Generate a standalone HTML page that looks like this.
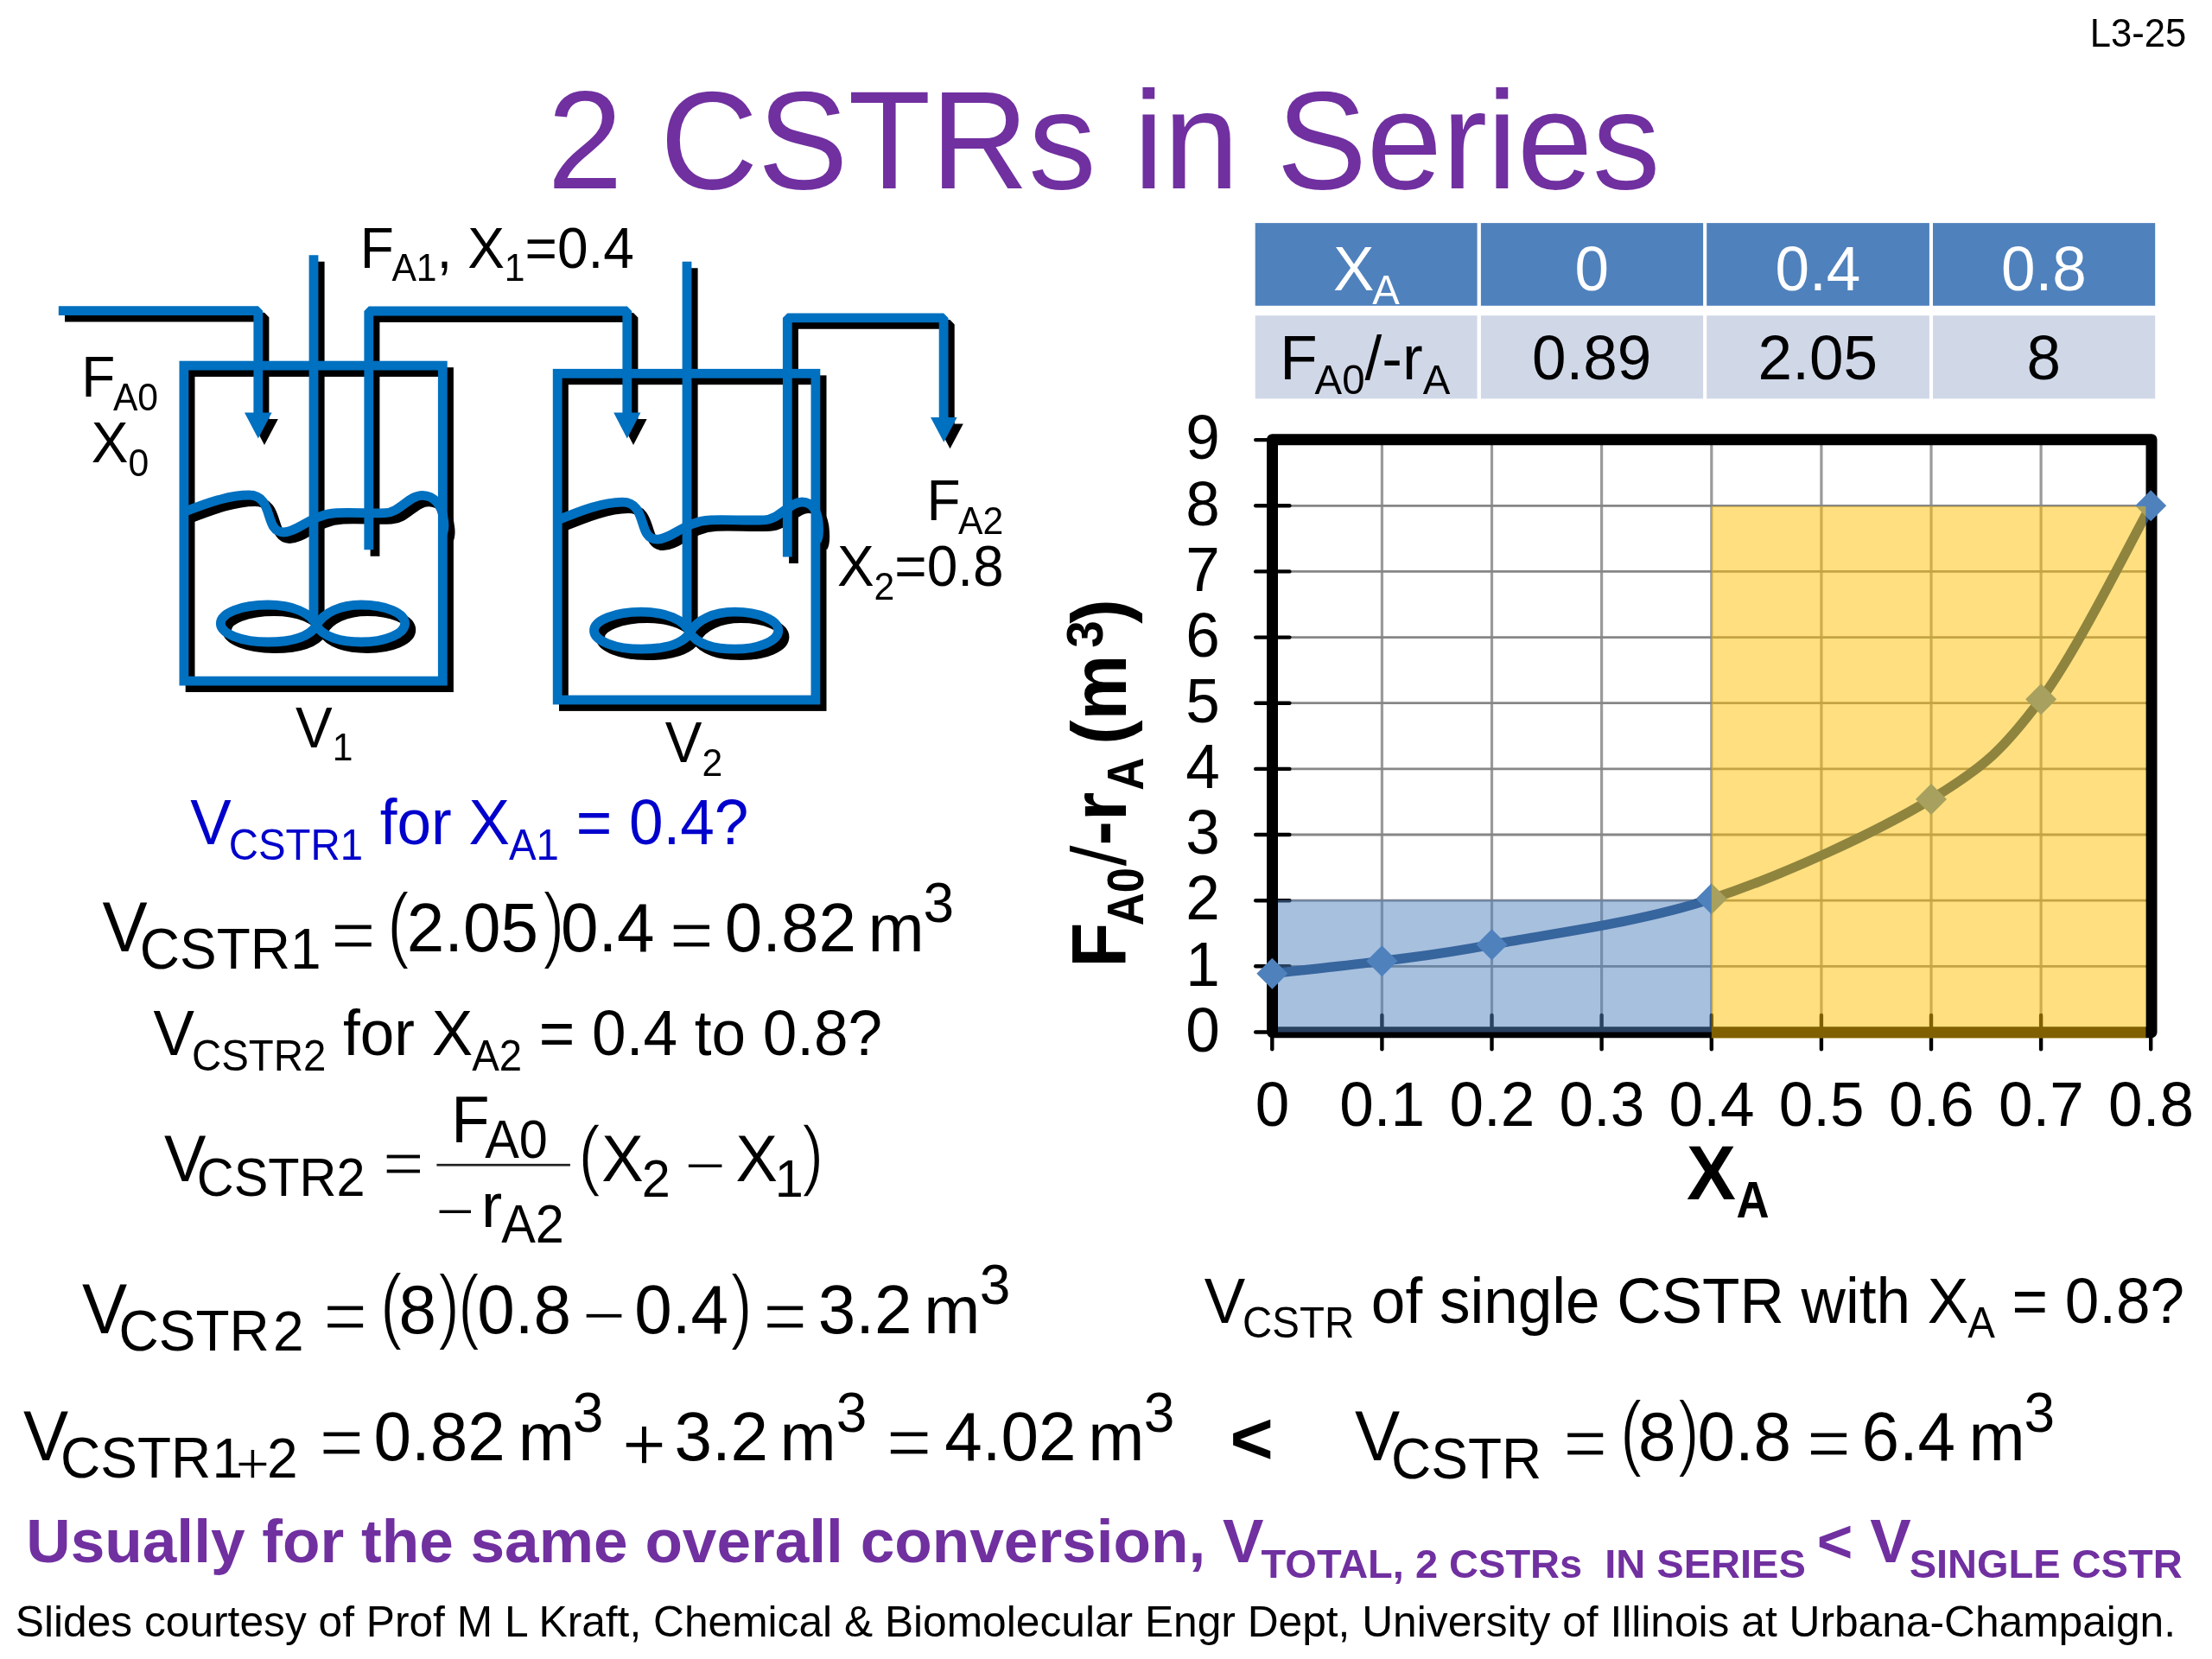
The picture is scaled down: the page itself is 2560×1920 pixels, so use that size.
<!DOCTYPE html>
<html lang="en"><head><meta charset="utf-8"><title>2 CSTRs in Series</title>
<style>
html,body{margin:0;padding:0;background:#fff;}
body{width:2560px;height:1920px;overflow:hidden;position:relative;}
svg{position:absolute;left:0;top:0;display:block;will-change:transform;}
text{font-family:"Liberation Sans", sans-serif;white-space:pre;}
</style></head><body>
<svg width="2560" height="1920" viewBox="0 0 2560 1920">

<text transform="translate(2418.8 54.4) scale(1 1.050)" font-size="43.6" fill="#000">L3-25</text>
<text transform="translate(633.4 218.3) scale(1 1.030)" font-size="156.6" fill="#7030a0">2 CSTRs in Series</text>
<g fill="none" stroke="#000" stroke-width="10.8" transform="translate(7.2,7.5)">
<g stroke-linejoin="miter">
<rect x="212.9" y="423.1" width="299.4" height="365"/>
<rect x="645.2" y="432.3" width="298.7" height="377.7"/>
</g>
<g stroke-linejoin="bevel">
<path d="M67.8 359.7 H298.8 V480"/>
<path d="M426.8 636.2 V360 H725.8 V480"/>
<path d="M911.3 644.5 V367.9 H1092.1 V486"/>
</g>
<path d="M363 295.2 V721"/>
<path d="M795 302.8 V729"/>
<g stroke-linejoin="round"><path d="M213 592.5 C240 582 265 573 288 573 C318 573 305 616 328 616 C345 616 360 595 390 593.6 C410 592.8 427 594.4 446 593.6 C463 593 473 573.3 489 573.3 C503 573.3 511.5 586 513.2 600 C514.5 608 514.2 614 512 617.5"/><path d="M366.2 724 C360 709 338 700 310 700 C279.6 700 255.3 709.6 255.3 721.5 C255.3 733.4 279.6 743 310 743 C338 743 358 737 366.2 724 C374 709 394 700 418 700 C446 700 468.6 709.6 468.6 721.5 C468.6 733.4 446 743 418 743 C394 743 374 737 366.2 724 Z"/>
<path d="M645.2 602 C672.2 591 697.2 581.2 720.2 581.2 C750.2 581.2 737.2 624.2 760.2 624.2 C777.2 624.2 792.2 603.2 822.2 601.8 C842.2 601 862 602.6 884 601.8 C903 601 913 581 928 581 C942 581 946.5 594 947.2 606 C948 616 947.8 622 945.5 625.5"/>
<g transform="translate(432.2,8.2)"><path d="M366.2 724 C360 709 338 700 310 700 C279.6 700 255.3 709.6 255.3 721.5 C255.3 733.4 279.6 743 310 743 C338 743 358 737 366.2 724 C374 709 394 700 418 700 C446 700 468.6 709.6 468.6 721.5 C468.6 733.4 446 743 418 743 C394 743 374 737 366.2 724 Z"/></g></g>
</g>
<g fill="#000" stroke="none" transform="translate(7.2,7.5)">
<path d="M283.0 477.5 H314.6 L298.8 507.5 Z"/>
<path d="M710.2 477.5 H741.4 L725.8 507.5 Z"/>
<path d="M1077.0 482.9 H1107.6 L1092.3 511.8 Z"/>
</g>
<g fill="none" stroke="#0070c0" stroke-width="10.8">
<g stroke-linejoin="miter">
<rect x="212.9" y="423.1" width="299.4" height="365"/>
<rect x="645.2" y="432.3" width="298.7" height="377.7"/>
</g>
<g stroke-linejoin="bevel">
<path d="M67.8 359.7 H298.8 V480"/>
<path d="M426.8 636.2 V360 H725.8 V480"/>
<path d="M911.3 644.5 V367.9 H1092.1 V486"/>
</g>
<path d="M363 295.2 V721"/>
<path d="M795 302.8 V729"/>
<g stroke-linejoin="round"><path d="M213 592.5 C240 582 265 573 288 573 C318 573 305 616 328 616 C345 616 360 595 390 593.6 C410 592.8 427 594.4 446 593.6 C463 593 473 573.3 489 573.3 C503 573.3 511.5 586 513.2 600 C514.5 608 514.2 614 512 617.5"/><path d="M366.2 724 C360 709 338 700 310 700 C279.6 700 255.3 709.6 255.3 721.5 C255.3 733.4 279.6 743 310 743 C338 743 358 737 366.2 724 C374 709 394 700 418 700 C446 700 468.6 709.6 468.6 721.5 C468.6 733.4 446 743 418 743 C394 743 374 737 366.2 724 Z"/>
<path d="M645.2 602 C672.2 591 697.2 581.2 720.2 581.2 C750.2 581.2 737.2 624.2 760.2 624.2 C777.2 624.2 792.2 603.2 822.2 601.8 C842.2 601 862 602.6 884 601.8 C903 601 913 581 928 581 C942 581 946.5 594 947.2 606 C948 616 947.8 622 945.5 625.5"/>
<g transform="translate(432.2,8.2)"><path d="M366.2 724 C360 709 338 700 310 700 C279.6 700 255.3 709.6 255.3 721.5 C255.3 733.4 279.6 743 310 743 C338 743 358 737 366.2 724 C374 709 394 700 418 700 C446 700 468.6 709.6 468.6 721.5 C468.6 733.4 446 743 418 743 C394 743 374 737 366.2 724 Z"/></g></g>
</g>
<g fill="#0070c0" stroke="none">
<path d="M283.0 477.5 H314.6 L298.8 507.5 Z"/>
<path d="M710.2 477.5 H741.4 L725.8 507.5 Z"/>
<path d="M1077.0 482.9 H1107.6 L1092.3 511.8 Z"/>
</g>
<text transform="translate(416.8 309.6) scale(1 1.045)" font-size="64.0" fill="#000">F<tspan dy="15.2" font-size="42.7" dx="-2.5">A1</tspan><tspan dy="-15.2">, X</tspan><tspan dy="15.2" font-size="42.7">1</tspan><tspan dy="-15.2">=0.4</tspan></text>
<text transform="translate(94.3 459.0) scale(1 1.045)" font-size="64.0" fill="#000">F<tspan dy="15.2" font-size="42.7" dx="-2.5">A0</tspan></text>
<text transform="translate(105.7 535.0) scale(1 1.045)" font-size="64.0" fill="#000">X<tspan dy="15.2" font-size="42.7">0</tspan></text>
<text transform="translate(342.0 864.5) scale(1 1.045)" font-size="64.0" fill="#000">V<tspan dy="15.2" font-size="42.7">1</tspan></text>
<text transform="translate(769.8 882.2) scale(1 1.045)" font-size="64.0" fill="#000">V<tspan dy="15.2" font-size="42.7">2</tspan></text>
<text transform="translate(1072.5 601.7) scale(1 1.045)" font-size="64.0" fill="#000">F<tspan dy="15.2" font-size="42.7" dx="-2.5">A2</tspan></text>
<text transform="translate(968.9 678.2) scale(1 1.045)" font-size="64.0" fill="#000">X<tspan dy="15.2" font-size="42.7">2</tspan><tspan dy="-15.2">=0.8</tspan></text>
<rect x="1452.7" y="258.1" width="256.9" height="95.7" fill="#4f81bd"/>
<rect x="1452.7" y="365.2" width="256.9" height="96.2" fill="#d0d8e8"/>
<rect x="1713.9" y="258.1" width="257.2" height="95.7" fill="#4f81bd"/>
<rect x="1713.9" y="365.2" width="257.2" height="96.2" fill="#d0d8e8"/>
<rect x="1975.2" y="258.1" width="257.7" height="95.7" fill="#4f81bd"/>
<rect x="1975.2" y="365.2" width="257.7" height="96.2" fill="#d0d8e8"/>
<rect x="2237.0" y="258.1" width="257.2" height="95.7" fill="#4f81bd"/>
<rect x="2237.0" y="365.2" width="257.2" height="96.2" fill="#d0d8e8"/>
<text transform="translate(1581.4 335.5) scale(1 1.005)" font-size="71.1" fill="#fff" text-anchor="middle">X<tspan dy="16.9" font-size="47.4" dx="-2.0">A</tspan></text>
<text transform="translate(1579.7 439.0) scale(1 1.005)" font-size="71.1" fill="#000" text-anchor="middle">F<tspan dy="16.9" font-size="47.4" dx="-3.0">A0</tspan><tspan dy="-16.9">/-r</tspan><tspan dy="16.9" font-size="47.4">A</tspan></text>
<text transform="translate(1842.2 335.5) scale(1 1.005)" font-size="71.1" fill="#fff" text-anchor="middle">0</text>
<text transform="translate(1842.2 439.0) scale(1 1.005)" font-size="71.1" fill="#000" text-anchor="middle">0.89</text>
<text transform="translate(2103.8 335.5) scale(1 1.005)" font-size="71.1" fill="#fff" text-anchor="middle">0.4</text>
<text transform="translate(2103.8 439.0) scale(1 1.005)" font-size="71.1" fill="#000" text-anchor="middle">2.05</text>
<text transform="translate(2365.3 335.5) scale(1 1.005)" font-size="71.1" fill="#fff" text-anchor="middle">0.8</text>
<text transform="translate(2365.3 439.0) scale(1 1.005)" font-size="71.1" fill="#000" text-anchor="middle">8</text>
<g fill="none">
<g stroke="#9a9a9a" stroke-width="3.2">
<path d="M1599.4 509.1 V1194.5"/>
<path d="M1726.5 509.1 V1194.5"/>
<path d="M1853.6 509.1 V1194.5"/>
<path d="M1980.8 509.1 V1194.5"/>
<path d="M2107.9 509.1 V1194.5"/>
<path d="M2235.0 509.1 V1194.5"/>
<path d="M2362.1 509.1 V1194.5"/>
</g><g stroke="#868686" stroke-width="2.8">
<path d="M1472.3 1118.3 H2489.2"/>
<path d="M1472.3 1042.2 H2489.2"/>
<path d="M1472.3 966.0 H2489.2"/>
<path d="M1472.3 889.9 H2489.2"/>
<path d="M1472.3 813.7 H2489.2"/>
<path d="M1472.3 737.6 H2489.2"/>
<path d="M1472.3 661.4 H2489.2"/>
<path d="M1472.3 585.3 H2489.2"/>
</g></g>
<rect x="1472.5" y="508.7" width="1017.5" height="686.0" fill="none" stroke="#000" stroke-width="13" stroke-linejoin="round"/>
<g stroke="#000" stroke-width="4.4" stroke-linecap="round">
<path d="M1453.2 1194.5 H1492.4"/>
<path d="M1453.2 1118.3 H1492.4"/>
<path d="M1453.2 1042.2 H1492.4"/>
<path d="M1453.2 966.0 H1492.4"/>
<path d="M1453.2 889.9 H1492.4"/>
<path d="M1453.2 813.7 H1492.4"/>
<path d="M1453.2 737.6 H1492.4"/>
<path d="M1453.2 661.4 H1492.4"/>
<path d="M1453.2 585.3 H1492.4"/>
<path d="M1453.2 509.1 H1492.4"/>
<path d="M1472.3 1175 V1214.3"/>
<path d="M1599.4 1175 V1214.3"/>
<path d="M1726.5 1175 V1214.3"/>
<path d="M1853.6 1175 V1214.3"/>
<path d="M1980.8 1175 V1214.3"/>
<path d="M2107.9 1175 V1214.3"/>
<path d="M2235.0 1175 V1214.3"/>
<path d="M2362.1 1175 V1214.3"/>
<path d="M2489.2 1175 V1214.3"/>
</g>
<path d="M1472.3 1126.7 C1493.5 1124.3 1557.0 1117.8 1599.4 1112.3 C1641.8 1106.7 1663.0 1105.2 1726.5 1093.2 C1790.1 1081.2 1896.0 1068.3 1980.8 1040.3 C2065.5 1012.2 2171.4 963.4 2235.0 924.9 C2298.5 886.4 2319.7 865.8 2362.1 809.2 C2404.5 752.5 2468.0 622.6 2489.2 585.3" fill="none" stroke="#1f497d" stroke-width="11.2" stroke-linecap="butt"/>
<path d="M1472.3 1108.7 l18.0 18.0 l-18.0 18.0 l-18.0 -18.0 Z" fill="#4f81bd"/>
<path d="M1599.4 1094.3 l18.0 18.0 l-18.0 18.0 l-18.0 -18.0 Z" fill="#4f81bd"/>
<path d="M1726.5 1075.2 l18.0 18.0 l-18.0 18.0 l-18.0 -18.0 Z" fill="#4f81bd"/>
<path d="M1980.8 1022.3 l18.0 18.0 l-18.0 18.0 l-18.0 -18.0 Z" fill="#4f81bd"/>
<path d="M2235.0 906.9 l18.0 18.0 l-18.0 18.0 l-18.0 -18.0 Z" fill="#4f81bd"/>
<path d="M2362.1 791.2 l18.0 18.0 l-18.0 18.0 l-18.0 -18.0 Z" fill="#4f81bd"/>
<path d="M2489.2 567.3 l18.0 18.0 l-18.0 18.0 l-18.0 -18.0 Z" fill="#4f81bd"/>
<rect x="1479" y="1041.4" width="501.8" height="153.1" fill="#4f81bd" fill-opacity="0.5"/>
<rect x="1980.8" y="585.9" width="502.6" height="615.7" fill="#ffc000" fill-opacity="0.5"/>
<text transform="translate(1411.9 1216.7) scale(1 1.015)" font-size="71.1" fill="#000" text-anchor="end">0</text>
<text transform="translate(1411.9 1140.5) scale(1 1.015)" font-size="71.1" fill="#000" text-anchor="end">1</text>
<text transform="translate(1411.9 1064.4) scale(1 1.015)" font-size="71.1" fill="#000" text-anchor="end">2</text>
<text transform="translate(1411.9 988.2) scale(1 1.015)" font-size="71.1" fill="#000" text-anchor="end">3</text>
<text transform="translate(1411.9 912.1) scale(1 1.015)" font-size="71.1" fill="#000" text-anchor="end">4</text>
<text transform="translate(1411.9 835.9) scale(1 1.015)" font-size="71.1" fill="#000" text-anchor="end">5</text>
<text transform="translate(1411.9 759.8) scale(1 1.015)" font-size="71.1" fill="#000" text-anchor="end">6</text>
<text transform="translate(1411.9 683.6) scale(1 1.015)" font-size="71.1" fill="#000" text-anchor="end">7</text>
<text transform="translate(1411.9 607.5) scale(1 1.015)" font-size="71.1" fill="#000" text-anchor="end">8</text>
<text transform="translate(1411.9 531.3) scale(1 1.015)" font-size="71.1" fill="#000" text-anchor="end">9</text>
<text transform="translate(1472.6 1303.4) scale(1 1.025)" font-size="71.1" fill="#000" text-anchor="middle">0</text>
<text transform="translate(1599.7 1303.4) scale(1 1.025)" font-size="71.1" fill="#000" text-anchor="middle">0.1</text>
<text transform="translate(1726.8 1303.4) scale(1 1.025)" font-size="71.1" fill="#000" text-anchor="middle">0.2</text>
<text transform="translate(1853.9 1303.4) scale(1 1.025)" font-size="71.1" fill="#000" text-anchor="middle">0.3</text>
<text transform="translate(1981.0 1303.4) scale(1 1.025)" font-size="71.1" fill="#000" text-anchor="middle">0.4</text>
<text transform="translate(2108.2 1303.4) scale(1 1.025)" font-size="71.1" fill="#000" text-anchor="middle">0.5</text>
<text transform="translate(2235.3 1303.4) scale(1 1.025)" font-size="71.1" fill="#000" text-anchor="middle">0.6</text>
<text transform="translate(2362.4 1303.4) scale(1 1.025)" font-size="71.1" fill="#000" text-anchor="middle">0.7</text>
<text transform="translate(2489.5 1303.4) scale(1 1.025)" font-size="71.1" fill="#000" text-anchor="middle">0.8</text>
<g transform="translate(1303.2 1119.7) rotate(-90)" font-weight="bold">
<text transform="translate(0.0 0.0) scale(1.000 1.045)" font-size="85.3" font-weight="bold">F</text>
<text transform="translate(48.5 20.1) scale(0.926 1.045)" font-size="56.9" font-weight="bold">A0</text>
<text transform="translate(117.5 0.0) scale(1.000 1.045)" font-size="85.3" font-weight="normal">/</text>
<text transform="translate(141.2 0.0) scale(1.000 1.045)" font-size="85.3" font-weight="bold">-r</text>
<text transform="translate(205.0 20.1) scale(0.926 1.045)" font-size="56.9" font-weight="bold">A</text>
<text transform="translate(257.9 0.0) scale(1.000 1.045)" font-size="85.3" font-weight="bold">(m</text>
<text transform="translate(370.0 -27.0) scale(1.000 1.045)" font-size="56.9" font-weight="bold">3</text>
<text transform="translate(398.0 0.0) scale(1.000 1.045)" font-size="85.3" font-weight="bold">)</text>
</g>
<text transform="translate(1952.1 1387.7) scale(1 1.045)" font-size="85.3" font-weight="bold">X</text>
<text transform="translate(2009.4 1409.4) scale(0.926 1.045)" font-size="56.9" font-weight="bold">A</text>
<text transform="translate(220.3 977.2) scale(1 1.040)" font-size="71.1" fill="#0000cc">V<tspan dy="16.9" font-size="47.4" dx="-3.0">CSTR1</tspan><tspan dy="-16.9"> for X</tspan><tspan dy="16.9" font-size="47.4" dx="-1.0">A1</tspan><tspan dy="-16.9"> = 0.4?</tspan></text>
<text transform="translate(177.5 1221.0) scale(1 1.040)" font-size="71.1" fill="#000">V<tspan dy="16.9" font-size="47.4" dx="-3.0">CSTR2</tspan><tspan dy="-16.9"> for X</tspan><tspan dy="16.9" font-size="47.4" dx="-1.0">A2</tspan><tspan dy="-16.9"> = 0.4 to 0.8?</tspan></text>
<text transform="translate(1393.7 1530.6) scale(1 1.040)" font-size="71.1" fill="#000">V<tspan dy="16.9" font-size="47.4" dx="-3.0">CSTR</tspan><tspan dy="-16.9"> of single CSTR with X</tspan><tspan dy="16.9" font-size="47.4" dx="-1.0">A</tspan><tspan dy="-16.9"> = 0.8?</tspan></text>
<text transform="translate(118.5 1101.4) scale(1 1.045)" font-size="78.2">V</text>
<text transform="translate(161.8 1121.1) scale(1 1.045)" font-size="64.0">CSTR1</text>
<text transform="translate(383.1 1110.0) scale(1 0.923)" font-size="88.8" font-family='"Liberation Serif", serif' stroke="#fff" stroke-width="1.3">=</text>
<text transform="translate(448.1 1101.6) scale(1.005 1.265)" font-size="78.2" font-family='"Liberation Serif", serif' stroke="#fff" stroke-width="1.5">(</text>
<text transform="translate(470.8 1101.4) scale(1 1.020)" font-size="78.2">2.05</text>
<text transform="translate(628.0 1101.6) scale(0.970 1.265)" font-size="78.2" font-family='"Liberation Serif", serif' stroke="#fff" stroke-width="1.5">)</text>
<text transform="translate(648.9 1101.4) scale(1 1.020)" font-size="78.2">0.4</text>
<text transform="translate(774.8 1110.0) scale(1 0.935)" font-size="87.7" font-family='"Liberation Serif", serif' stroke="#fff" stroke-width="1.3">=</text>
<text transform="translate(838.8 1101.4) scale(1 1.020)" font-size="78.2">0.82</text>
<text transform="translate(1004.4 1101.4) scale(1 1.000)" font-size="78.2">m</text>
<text transform="translate(1068.5 1067.4) scale(1 1.020)" font-size="64.0">3</text>
<text transform="translate(190.0 1366.6) scale(1 1.045)" font-size="72.6">V</text>
<text transform="translate(227.8 1384.3) scale(1 1.045)" font-size="59.4">CSTR2</text>
<text transform="translate(443.1 1370.2) scale(1 0.838)" font-size="81.7" font-family='"Liberation Serif", serif' stroke="#fff" stroke-width="1.3">=</text>
<rect x="505.4" y="1346.9" width="154.5" height="2.7" fill="#222"/>
<text transform="translate(522.2 1322.0) scale(1 1.045)" font-size="72.6">F</text>
<text transform="translate(561.2 1339.7) scale(1 1.045)" font-size="59.4">A0</text>
<text transform="translate(504.1 1422.6) scale(1 0.800)" font-size="77.8" font-family='"Liberation Serif", serif' stroke="#fff" stroke-width="1.3">−</text>
<text transform="translate(557.1 1419.9) scale(1 1.000)" font-size="72.6">r</text>
<text transform="translate(580.2 1438.4) scale(1 1.045)" font-size="59.4">A2</text>
<text transform="translate(669.2 1366.2) scale(0.995 1.142)" font-size="78.2" font-family='"Liberation Serif", serif' stroke="#fff" stroke-width="1.5">(</text>
<text transform="translate(696.2 1366.6) scale(1 1.045)" font-size="72.6">X</text>
<text transform="translate(742.8 1384.5) scale(1 1.020)" font-size="59.4">2</text>
<text transform="translate(792.2 1370.7) scale(1 0.800)" font-size="82.2" font-family='"Liberation Serif", serif' stroke="#fff" stroke-width="1.3">−</text>
<text transform="translate(851.6 1366.6) scale(1 1.045)" font-size="72.6">X</text>
<text transform="translate(896.7 1384.5) scale(1 1.020)" font-size="59.4">1</text>
<text transform="translate(928.1 1366.2) scale(0.975 1.142)" font-size="78.2" font-family='"Liberation Serif", serif' stroke="#fff" stroke-width="1.5">)</text>
<text transform="translate(94.9 1543.3) scale(1 1.045)" font-size="78.2">V</text>
<text transform="translate(137.5 1562.5) scale(1 1.045)" font-size="64.0">CSTR</text>
<text transform="translate(316.0 1562.5) scale(1 1.020)" font-size="64.0">2</text>
<text transform="translate(374.3 1550.5) scale(1 0.941)" font-size="87.1" font-family='"Liberation Serif", serif' stroke="#fff" stroke-width="1.3">=</text>
<text transform="translate(439.8 1543.1) scale(1.005 1.245)" font-size="78.2" font-family='"Liberation Serif", serif' stroke="#fff" stroke-width="1.5">(</text>
<text transform="translate(461.4 1543.3) scale(1 1.020)" font-size="78.2">8</text>
<text transform="translate(506.7 1543.1) scale(0.970 1.245)" font-size="78.2" font-family='"Liberation Serif", serif' stroke="#fff" stroke-width="1.5">)</text>
<text transform="translate(530.0 1543.1) scale(0.970 1.245)" font-size="78.2" font-family='"Liberation Serif", serif' stroke="#fff" stroke-width="1.5">(</text>
<text transform="translate(552.2 1543.3) scale(1 1.020)" font-size="78.2">0.8</text>
<text transform="translate(673.8 1546.3) scale(1 0.800)" font-size="86.7" font-family='"Liberation Serif", serif' stroke="#fff" stroke-width="1.3">−</text>
<text transform="translate(734.2 1543.3) scale(1 1.020)" font-size="78.2">0.4</text>
<text transform="translate(845.1 1543.1) scale(0.995 1.245)" font-size="78.2" font-family='"Liberation Serif", serif' stroke="#fff" stroke-width="1.5">)</text>
<text transform="translate(883.2 1550.5) scale(1 0.939)" font-size="87.3" font-family='"Liberation Serif", serif' stroke="#fff" stroke-width="1.3">=</text>
<text transform="translate(946.7 1543.3) scale(1 1.020)" font-size="78.2">3.2</text>
<text transform="translate(1069.2 1543.3) scale(1 1.000)" font-size="78.2">m</text>
<text transform="translate(1133.7 1509.3) scale(1 1.020)" font-size="64.0">3</text>
<text transform="translate(27.1 1690.1) scale(1 1.045)" font-size="78.2">V</text>
<text transform="translate(70.0 1710.4) scale(1 1.045)" font-size="64.0">CSTR</text>
<text transform="translate(245.6 1710.4) scale(1 1.020)" font-size="64.0">1</text>
<text transform="translate(272.4 1716.9) scale(1 1.000)" font-size="68.2" font-family='"Liberation Serif", serif' stroke="#fff" stroke-width="1.3">+</text>
<text transform="translate(309.0 1710.4) scale(1 1.020)" font-size="64.0">2</text>
<text transform="translate(369.5 1696.8) scale(1 0.925)" font-size="88.6" font-family='"Liberation Serif", serif' stroke="#fff" stroke-width="1.3">=</text>
<text transform="translate(432.6 1690.1) scale(1 1.020)" font-size="78.2">0.82</text>
<text transform="translate(599.7 1690.1) scale(1 1.000)" font-size="78.2">m</text>
<text transform="translate(662.7 1657.1) scale(1 1.020)" font-size="64.0">3</text>
<text transform="translate(719.8 1701.5) scale(1 1.000)" font-size="88.2" font-family='"Liberation Serif", serif' stroke="#fff" stroke-width="1.3">+</text>
<text transform="translate(780.4 1690.1) scale(1 1.020)" font-size="78.2">3.2</text>
<text transform="translate(902.5 1690.1) scale(1 1.000)" font-size="78.2">m</text>
<text transform="translate(967.7 1657.1) scale(1 1.020)" font-size="64.0">3</text>
<text transform="translate(1025.7 1696.8) scale(1 0.908)" font-size="90.3" font-family='"Liberation Serif", serif' stroke="#fff" stroke-width="1.3">=</text>
<text transform="translate(1093.3 1690.1) scale(1 1.020)" font-size="78.2">4.02</text>
<text transform="translate(1259.2 1690.1) scale(1 1.000)" font-size="78.2">m</text>
<text transform="translate(1323.7 1657.1) scale(1 1.020)" font-size="64.0">3</text>
<text transform="translate(1423.4 1693.6)" font-size="86" font-weight="bold">&lt;</text>
<text transform="translate(1567.9 1690.2) scale(1 1.045)" font-size="78.2">V</text>
<text transform="translate(1610.1 1710.5) scale(1 1.045)" font-size="64.0">CSTR</text>
<text transform="translate(1809.3 1698.2) scale(1 0.939)" font-size="87.3" font-family='"Liberation Serif", serif' stroke="#fff" stroke-width="1.3">=</text>
<text transform="translate(1874.8 1689.8) scale(1.005 1.259)" font-size="78.2" font-family='"Liberation Serif", serif' stroke="#fff" stroke-width="1.5">(</text>
<text transform="translate(1896.1 1690.2) scale(1 1.020)" font-size="78.2">8</text>
<text transform="translate(1941.5 1689.8) scale(0.970 1.259)" font-size="78.2" font-family='"Liberation Serif", serif' stroke="#fff" stroke-width="1.5">)</text>
<text transform="translate(1964.4 1690.2) scale(1 1.020)" font-size="78.2">0.8</text>
<text transform="translate(2090.9 1698.2) scale(1 0.937)" font-size="87.5" font-family='"Liberation Serif", serif' stroke="#fff" stroke-width="1.3">=</text>
<text transform="translate(2154.4 1690.2) scale(1 1.020)" font-size="78.2">6.4</text>
<text transform="translate(2278.6 1690.2) scale(1 1.000)" font-size="78.2">m</text>
<text transform="translate(2342.4 1657.2) scale(1 1.020)" font-size="64.0">3</text>
<text x="30.3" y="1808.0" font-size="71.2" fill="#7030a0" font-weight="bold">Usually for the same overall conversion, V<tspan dy="18.4" font-size="47.0" dx="-3.0">TOTAL, 2 CSTRs  IN SERIES </tspan><tspan dy="-18.4">&lt; V</tspan><tspan dy="18.4" font-size="47.0" dx="-2.0">SINGLE CSTR</tspan></text>
<text transform="translate(17.8 1894.3) scale(1 1.020)" font-size="49.7" fill="#000">Slides courtesy of Prof M L Kraft, Chemical &amp; Biomolecular Engr Dept, University of Illinois at Urbana-Champaign.</text>
</svg></body></html>
